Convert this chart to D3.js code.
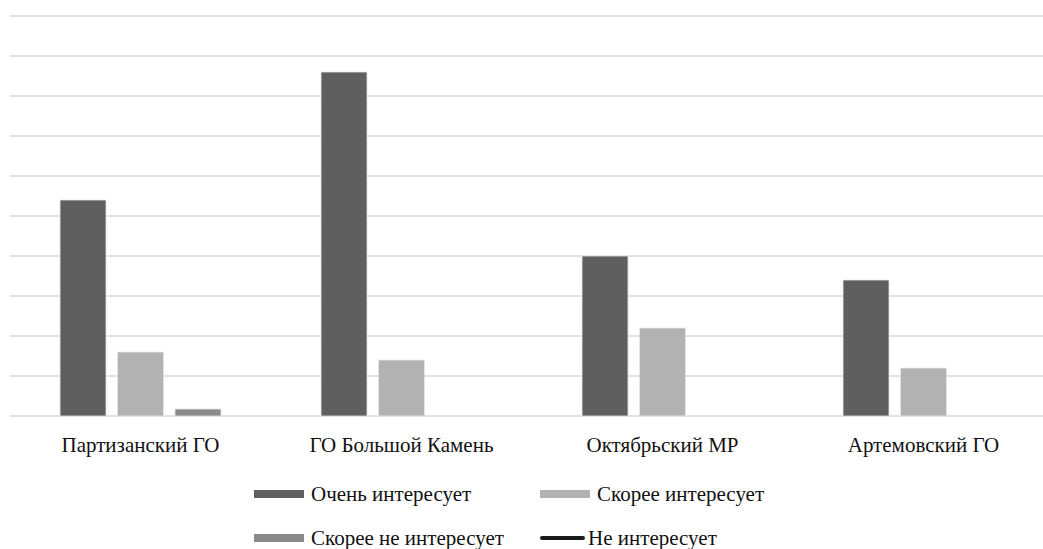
<!DOCTYPE html>
<html><head><meta charset="utf-8">
<script src="https://cdn.jsdelivr.net/npm/d3@7"></script>
</head><body style="margin:0;padding:0">
<svg id="chart" width="1043" height="549" style="display:block"></svg>
<script>
const categories = ["Партизанский ГО", "ГО Большой Камень", "Октябрьский МР", "Артемовский ГО"];
const seriesNames = ["Очень интересует", "Скорее интересует", "Скорее не интересует", "Не интересует"];
const veryInterested = [54, 86, 40, 34];
const ratherInterested = [16, 14, 22, 12];
const ratherNot = [1.75, 0, 0, 0];
const notInterested = [0, 0, 0, 0];
const yTicks = [0, 10, 20, 30, 40, 50, 60, 70, 80, 90, 100];
const colors = ["#5f5f5f", "#b2b2b2", "#8a8a8a", "#1a1a1a"];

const svg = d3.select("#chart");
const mLeft = 10, mRight = 1054, mTop = 16, mBottom = 416;

const x0 = d3.scaleBand().domain(categories).range([mLeft, mRight]).paddingInner(0).paddingOuter(0);
const barSeries = [veryInterested, ratherInterested, ratherNot];
const x1 = d3.scaleBand().domain([0, 1, 2]).range([0, x0.bandwidth()]).paddingInner(0.2).paddingOuter(0.87);
const y = d3.scaleLinear().domain([0, 100]).range([mBottom, mTop]);

svg.append("g").selectAll("line").data(yTicks).join("line")
  .attr("x1", mLeft).attr("x2", 1043)
  .attr("y1", d => y(d)).attr("y2", d => y(d))
  .attr("stroke", "#d9d9d9").attr("stroke-width", 1.6);

const groups = svg.append("g").selectAll("g").data(categories).join("g")
  .attr("transform", d => `translate(${x0(d)},0)`);
groups.selectAll("rect").data((c, i) => barSeries.map((s, k) => ({k, v: s[i]})).filter(d => d.v > 0)).join("rect")
  .attr("x", d => x1(d.k)).attr("width", x1.bandwidth())
  .attr("y", d => y(d.v)).attr("height", d => y(0) - y(d.v))
  .attr("fill", d => colors[d.k]).attr("stroke", "#e6e6e6").attr("stroke-width", 0.8);

svg.append("g").selectAll("text").data(categories).join("text")
  .attr("x", d => x0(d) + x0.bandwidth() / 2).attr("y", 452)
  .attr("text-anchor", "middle")
  .style("font-family", '"Times New Roman"').style("font-size", "21px")
  .attr("fill", "#111").text(d => d);

const legendItems = [
  {name: seriesNames[0], color: colors[0], type: "rect", x: 254, y: 494},
  {name: seriesNames[1], color: colors[1], type: "rect", x: 540, y: 494},
  {name: seriesNames[2], color: colors[2], type: "rect", x: 254, y: 538},
  {name: seriesNames[3], color: colors[3], type: "line", x: 540, y: 538}
];
const lg = svg.append("g").selectAll("g").data(legendItems).join("g")
  .attr("transform", d => `translate(${d.x},${d.y})`);
lg.filter(d => d.type === "rect").append("rect")
  .attr("x", 0).attr("y", -4).attr("width", 50).attr("height", 8).attr("fill", d => d.color);
lg.filter(d => d.type === "line").append("line")
  .attr("x1", 2).attr("x2", 43).attr("y1", 0).attr("y2", 0)
  .attr("stroke", d => d.color).attr("stroke-width", 4).attr("stroke-linecap", "round");
lg.append("text")
  .attr("x", d => d.type === "rect" ? 57 : 48).attr("y", 7)
  .style("font-family", '"Times New Roman"').style("font-size", "21px").attr("fill", "#111")
  .text(d => d.name);
</script>
</body></html>
